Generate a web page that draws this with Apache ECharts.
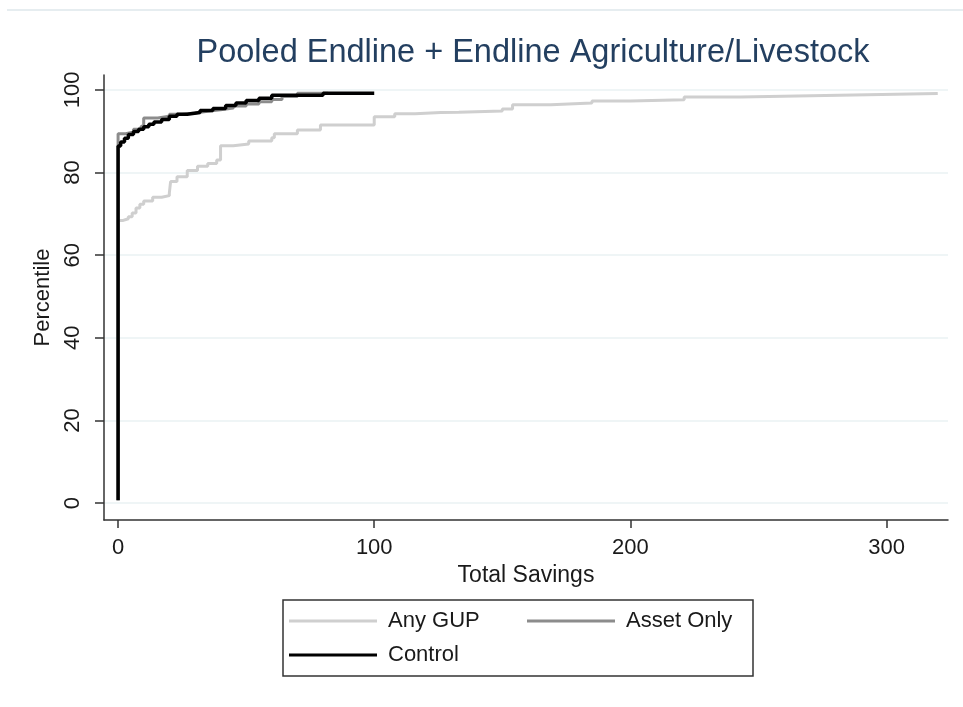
<!DOCTYPE html>
<html>
<head>
<meta charset="utf-8">
<script src="https://cdn.jsdelivr.net/npm/echarts@6/dist/echarts.min.js"></script>
<style>
  html, body { margin: 0; padding: 0; background: #fff; }
  #main { width: 963px; height: 707px; }
</style>
</head>
<body>
<div id="main"></div>
<script>
// CDF points [savings, percentile]
const anyGup = [
  [0, 0.7], [0, 68.4], [2, 68.8], [4, 69.3], [5.5, 70.2], [7, 71.4], [8.5, 72.3], [10, 73.1],
  [13.5, 74], [17, 74.4], [20, 75],
  [20.5, 77.8], [23, 79], [27, 80.5], [31, 81.5], [35, 82.2], [38.5, 83], [40, 86.5],
  [45, 86.9], [51, 87.6], [60, 88.4], [61, 89.4], [70, 90.3], [79, 91.5], [100, 93.5],
  [108, 94.2], [116, 94.5], [126, 94.6], [133, 94.9], [150, 95.4], [154, 96.4], [169, 96.8],
  [185, 97.3], [200, 97.6], [221, 98.3], [243, 98.7], [281.6, 99.1], [320, 99.1]
];
const assetOnly = [
  [0, 0.7], [0, 89.4], [3, 89.8], [6, 90.5], [9, 91.2], [10, 93.2], [15.5, 93.6], [20, 94.1],
  [25, 94.4], [30, 94.8], [35, 95.2], [40, 95.6], [45, 96.1], [50, 96.6], [55, 97.1],
  [60, 97.7], [64, 98.4], [70, 99.2], [82, 99.2]
];
const control = [
  [0, 0.7], [0, 86.4], [1, 87.4], [2.5, 88.3], [4, 89.2], [6, 89.9], [8, 90.5], [10, 91.1],
  [12, 91.7], [14, 92.2], [17, 92.8], [20, 93.6], [23, 94.1], [27, 94.5], [32, 95.0],
  [37, 95.5], [42, 96.2], [46, 96.8], [50, 97.4], [55, 98.0], [60, 98.7], [80, 99.2], [100, 99.2]
];
const seriesNames = ['Any GUP', 'Asset Only', 'Control'];
const xTicks = [0, 100, 200, 300];
const yTicks = [0, 20, 40, 60, 80, 100];

const chart = echarts.init(document.getElementById('main'));
const font = 'Liberation Sans, Arial, sans-serif';

const option = {
  backgroundColor: '#fff',
  animation: false,
  title: {
    text: 'Pooled Endline + Endline Agriculture/Livestock',
    left: 528, top: 32, textAlign: 'center',
    textStyle: { fontFamily: font, fontSize: 32.5, fontWeight: 'normal', color: '#233f60' }
  },
  graphic: [{
    type: 'line', shape: { x1: 7, y1: 10, x2: 963, y2: 10 },
    style: { stroke: '#e6edf0', lineWidth: 2 }
  }],
  grid: { left: 104, right: 15, top: 75, bottom: 187 },
  xAxis: {
    type: 'value', min: -5.5, max: 324,
    name: 'Total Savings', nameLocation: 'middle', nameGap: 41,
    nameTextStyle: { fontFamily: font, fontSize: 23, color: '#1a1a1a' },
    axisLine: { onZero: false, lineStyle: { color: '#333', width: 1.5 } },
    axisTick: { customValues: xTicks, length: 8, lineStyle: { color: '#333', width: 1.5 } },
    axisLabel: { customValues: xTicks, margin: 17, fontFamily: font, fontSize: 22, color: '#1a1a1a' },
    splitLine: { show: false }
  },
  yAxis: {
    type: 'value', min: -4.1, max: 103.6,
    name: 'Percentile', nameLocation: 'middle', nameGap: 46,
    nameTextStyle: { fontFamily: font, fontSize: 22, color: '#1a1a1a' },
    axisLine: { show: true, onZero: false, lineStyle: { color: '#333', width: 1.5 } },
    axisTick: { show: true, customValues: yTicks, length: 9, lineStyle: { color: '#333', width: 1.5 } },
    axisLabel: { customValues: yTicks, rotate: 90, margin: 20, fontFamily: font, fontSize: 22, color: '#1a1a1a' },
    splitLine: { show: true, lineStyle: { color: '#eaf2f3', width: 1.5 } }
  },
  legend: {
    data: seriesNames,
    left: 283, top: 600, width: 465,
    orient: 'horizontal',
    padding: [10, 0, 10, 6],
    borderColor: '#333', borderWidth: 1.5,
    itemGap: 12, itemWidth: 88, itemHeight: 3,
    icon: 'rect',
    textStyle: {
      fontFamily: font, fontSize: 22, color: '#1a1a1a',
      width: 127, lineHeight: 20, padding: [0, 0, 0, 6]
    }
  },
  series: [
    { name: seriesNames[0], type: 'line', step: 'end', data: anyGup, showSymbol: false,
      color: '#cfcfcf', lineStyle: { width: 3, color: '#cfcfcf' } },
    { name: seriesNames[1], type: 'line', step: 'end', data: assetOnly, showSymbol: false,
      color: '#8c8c8c', lineStyle: { width: 3, color: '#8c8c8c' } },
    { name: seriesNames[2], type: 'line', step: 'end', data: control, showSymbol: false,
      color: '#000000', lineStyle: { width: 3.5, color: '#000000' } }
  ]
};
chart.setOption(option);
</script>
</body>
</html>
